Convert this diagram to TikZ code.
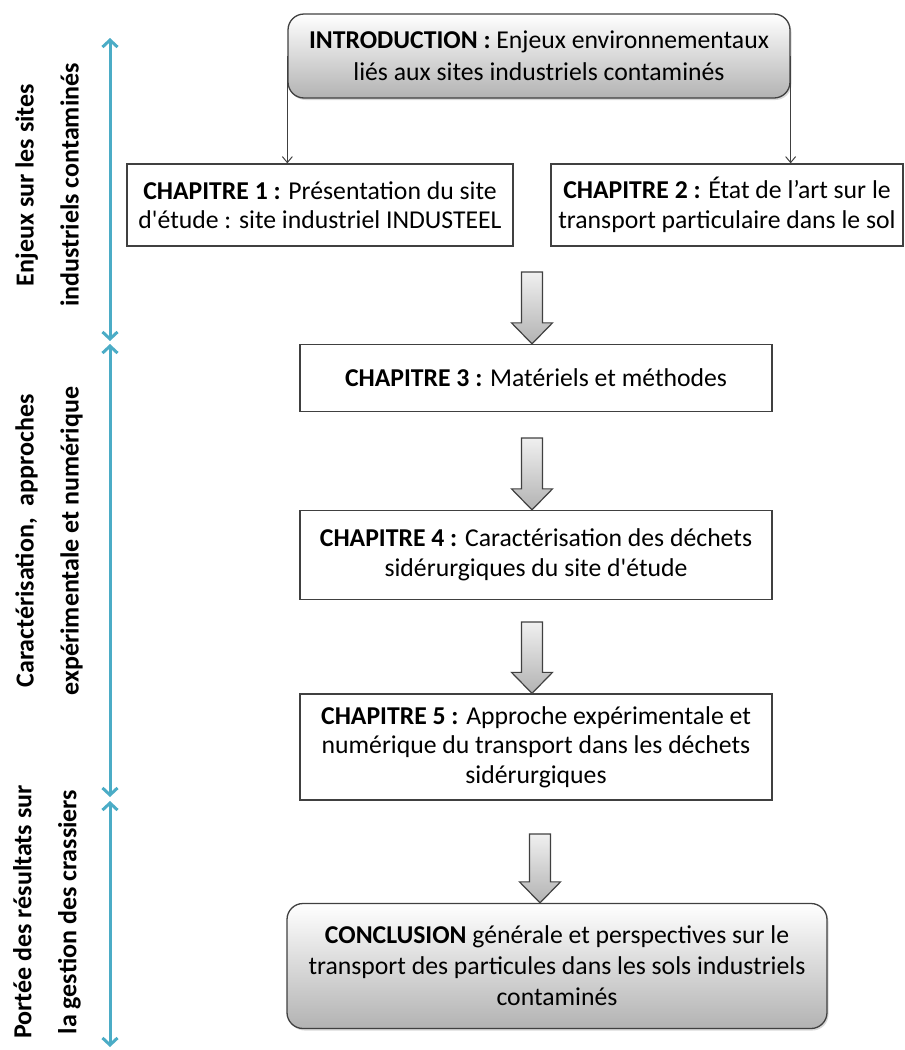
\documentclass[tikz,border=0pt]{standalone}
\usepackage{fontspec}
\setmainfont{Carlito}
\usepackage{tikz}
\usetikzlibrary{calc,arrows.meta,shadows}
\definecolor{bleuaxe}{HTML}{4BACC6}
\definecolor{bordgris}{HTML}{404040}

% grosse fleche grise : du point #1 vers le haut du noeud #2
\newcommand{\grossefleche}[2]{%
  \draw[flechegrise] let \p1=(#1), \p2=(#2.north) in
    (\x1-10.5pt,\y1) -- (\x1+10.5pt,\y1) -- (\x1+10.5pt,\y2+21pt)
    -- (\x1+20.5pt,\y2+21pt) -- (\x1,\y2) -- (\x1-20.5pt,\y2+21pt)
    -- (\x1-10.5pt,\y2+21pt) -- cycle;}

\begin{document}
\begin{tikzpicture}[x=1pt, y=-1pt,
  font=\fontsize{25.7}{29.5}\selectfont,
  boite/.style={draw=bordgris, line width=1.3pt, fill=white, align=center, inner sep=0pt},
  boiteronde/.style={draw=bordgris, line width=1.3pt, align=center, inner sep=0pt,
    rounded corners=16pt, top color=white, bottom color=black!30,
    drop shadow={shadow xshift=1.5pt, shadow yshift=-2pt, opacity=0.3}},
  fleche/.style={draw=bordgris, line width=1pt, -{Straight Barb[length=6pt,width=10pt]}},
  flechegrise/.style={draw=bordgris, line width=1.2pt, top color=black!6, bottom color=black!30},
  axe/.style={bleuaxe, line width=3pt, {Straight Barb[length=7pt,width=15pt]}-{Straight Barb[length=7pt,width=15pt]}},
  etiquette/.style={rotate=90, align=center, font=\bfseries\fontsize{26}{45}\selectfont}]

  \useasboundingbox (0,0) rectangle (905,1050);

  % Boites
  \node[boiteronde, minimum width=502pt, minimum height=84pt,
    font=\fontsize{25.7}{32}\selectfont] (intro) at (539,56)
    {\textbf{INTRODUCTION :} Enjeux environnementaux\\liés aux sites industriels contaminés};
  \node[boite, minimum width=386pt, minimum height=82pt] (chap1) at (320,205)
    {\textbf{CHAPITRE 1 :} Présentation du site\\d\textquotesingle étude : site industriel INDUSTEEL};
  \node[boite, minimum width=352pt, minimum height=82pt] (chap2) at (727,205)
    {\textbf{CHAPITRE 2 :} État de l’art sur le\\transport particulaire dans le sol};
  \node[boite, minimum width=472pt, minimum height=67pt] (chap3) at (536,378)
    {\textbf{CHAPITRE 3 :} Matériels et méthodes};
  \node[boite, minimum width=472pt, minimum height=89pt] (chap4) at (536,555)
    {\textbf{CHAPITRE 4 :} Caractérisation des déchets\\sidérurgiques du site d\textquotesingle étude};
  \node[boite, minimum width=472pt, minimum height=106pt] (chap5) at (536,747)
    {\textbf{CHAPITRE 5 :} Approche expérimentale et\\numérique du transport dans les déchets\\sidérurgiques};
  \node[boiteronde, minimum width=540pt, minimum height=125pt,
    font=\fontsize{25.7}{31}\selectfont] (concl) at (557,966)
    {\textbf{CONCLUSION} générale et perspectives sur le\\transport des particules dans les sols industriels\\contaminés};

  % Fleches fines
  \draw[fleche] (intro.west) -- (intro.west |- chap1.north);
  \draw[fleche] (intro.east) -- (intro.east |- chap2.north);

  % Grosses fleches
  \coordinate (f1) at (532,272);
  \coordinate (f2) at (532,438);
  \coordinate (f3) at (532,622);
  \coordinate (f4) at (540,834);
  \grossefleche{f1}{chap3}
  \grossefleche{f2}{chap4}
  \grossefleche{f3}{chap5}
  \grossefleche{f4}{concl}

  % Axe a gauche
  \coordinate (a0) at (110,38);
  \coordinate (a1) at (110,341);
  \coordinate (a2) at (110,344);
  \coordinate (a3) at (110,797);
  \coordinate (a4) at (110,801);
  \coordinate (a5) at (110,1047);
  \draw[axe] (a0) -- (a1);
  \draw[axe] (a2) -- (a3);
  \draw[axe] (a4) -- (a5);

  % Etiquettes
  \node[etiquette] (lab1) at (47,185) {Enjeux sur les sites\\industriels contaminés};
  \node[etiquette] (lab2) at (49,541) {Caractérisation,\ \ approches\\expérimentale et numérique};
  \node[etiquette] (lab3) at (47,912) {Portée des résultats sur\\la gestion des crassiers};
\end{tikzpicture}
\end{document}
